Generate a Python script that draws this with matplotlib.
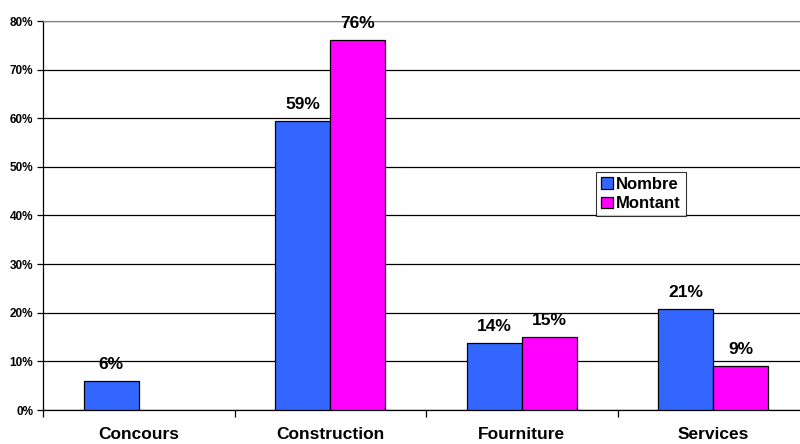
import matplotlib
matplotlib.use("Agg")
import matplotlib.pyplot as plt
import numpy as np

categories = ["Concours", "Construction", "Fourniture", "Services"]
nombre = [6.0, 59.4, 13.8, 20.8]
montant = [None, 76.0, 15.0, 9.0]
nombre_labels = ["6%", "59%", "14%", "21%"]
montant_labels = [None, "76%", "15%", "9%"]
yticks = [0, 10, 20, 30, 40, 50, 60, 70, 80]

plt.rcParams['font.family'] = ['Liberation Sans', 'DejaVu Sans']

fig = plt.figure(figsize=(8, 4.44), dpi=100)
ax = fig.add_axes([43/800, 1 - 410/444, 766/800, 389/444])

x = np.arange(len(categories))
w = 0.287
blue = "#3366ff"
mag = "#ff00ff"
for i in range(len(categories)):
    ax.bar(x[i] - w/2, nombre[i], w, color=blue, edgecolor="black", linewidth=0.9, zorder=3,
           label="Nombre" if i == 0 else None)
    ax.annotate(nombre_labels[i], (x[i] - w/2, nombre[i]), xytext=(0, 6.5), textcoords="offset points",
                ha="center", va="bottom", fontsize=12.5, fontweight="bold")
    if montant[i] is not None:
        ax.bar(x[i] + w/2, montant[i], w, color=mag, edgecolor="black", linewidth=0.9, zorder=3,
               label="Montant" if i == 1 else None)
        ax.annotate(montant_labels[i], (x[i] + w/2, montant[i]), xytext=(0, 6.5), textcoords="offset points",
                    ha="center", va="bottom", fontsize=12.5, fontweight="bold")

ax.set_xlim(-0.5, len(categories) - 0.5)
ax.set_ylim(0, 80)
ax.set_yticks(yticks)
ax.set_yticklabels([f"{v}%" for v in yticks], fontsize=8.5, fontweight="bold")
ax.yaxis.grid(True, color="black", linewidth=0.9, zorder=0)
ax.set_axisbelow(True)

ax.set_xticks(x)
ax.set_xticklabels(categories, fontsize=12.5, fontweight="bold")
ax.tick_params(axis="x", length=0, pad=12)
ax.set_xticks(np.arange(-0.5, len(categories), 1), minor=True)
ax.tick_params(axis="x", which="minor", length=5, width=0.9, direction="out")
ax.tick_params(axis="y", length=4, width=0.9, direction="out", pad=3)

ax.spines["top"].set_color("#808080")
ax.spines["right"].set_visible(False)
ax.spines["left"].set_linewidth(0.9)
ax.spines["bottom"].set_linewidth(0.9)

leg = ax.legend(loc="upper left", frameon=True, fancybox=False,
                prop={"weight": "bold", "size": 12}, handlelength=0.7, handleheight=0.7,
                handletextpad=0.2, borderpad=0.3, labelspacing=0.25, borderaxespad=0)
leg.set_bbox_to_anchor((596/800, 1 - 172/444), transform=fig.transFigure)
leg.get_frame().set_edgecolor("black")
leg.get_frame().set_linewidth(0.8)

fig.savefig("out.png", dpi=100)
